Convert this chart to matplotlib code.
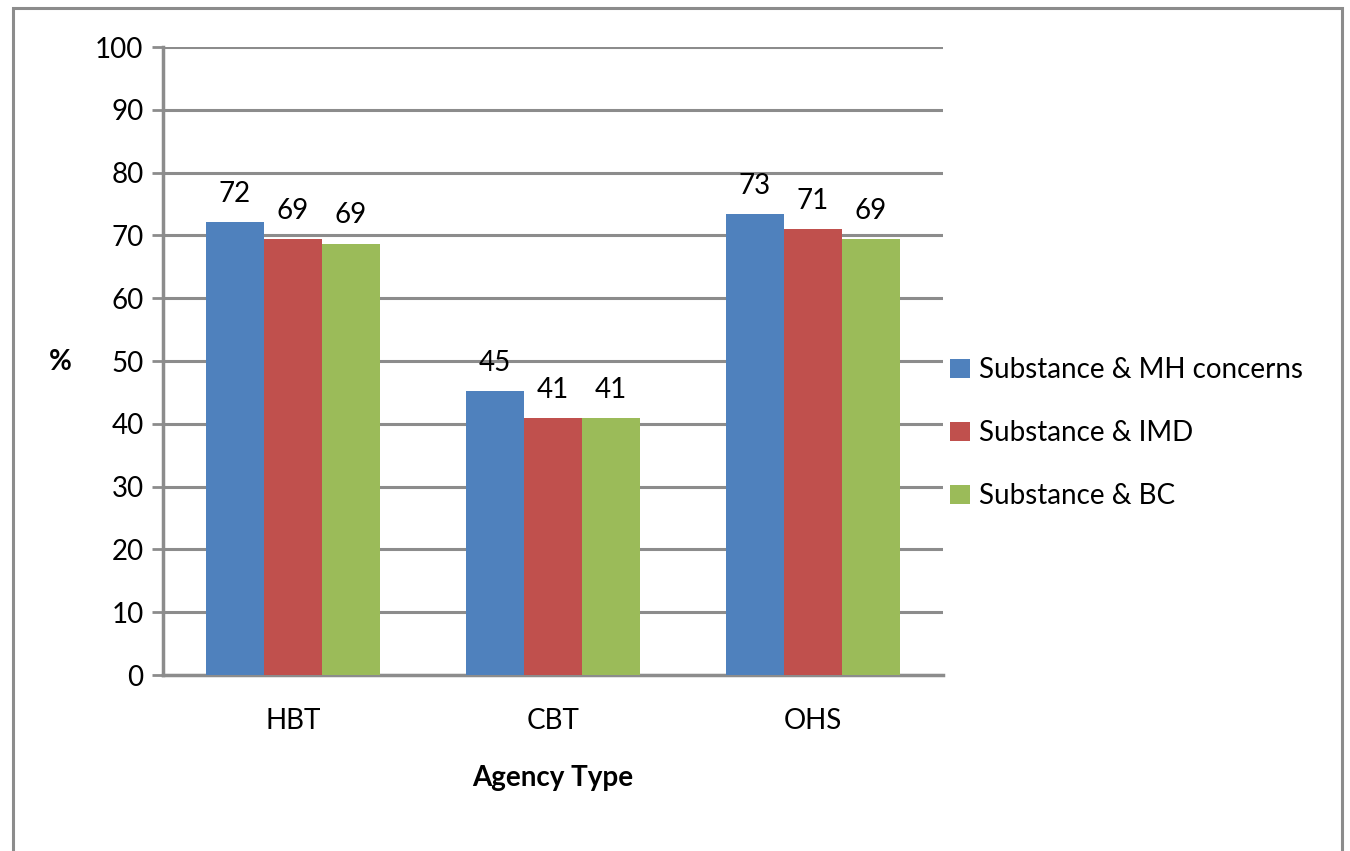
import numpy as np
import matplotlib
matplotlib.use("Agg")
import matplotlib.pyplot as plt
from matplotlib.patches import Rectangle

# --- Data ---
categories = ["HBT", "CBT", "OHS"]
series_names = ["Substance & MH concerns", "Substance & IMD", "Substance & BC"]
mh_concerns = [72.1, 45.2, 73.4]
imd = [69.4, 40.9, 71.0]
bc = [68.7, 40.9, 69.4]
bar_labels = [[72, 45, 73], [69, 41, 71], [69, 41, 69]]
yticks = [0, 10, 20, 30, 40, 50, 60, 70, 80, 90, 100]

colors = ["#4F81BD", "#C0504D", "#9BBB59"]
grid_col = "#8C8C8C"

plt.rcParams['font.family'] = ['Lato', 'DejaVu Sans']
fs = 20

W, H = 1350, 851
fig = plt.figure(figsize=(W / 100, H / 100), dpi=100)
ax = fig.add_axes([163 / W, 1 - 675 / H, (943 - 163) / W, (675 - 47) / H])

# outer frame
fig.patches.append(Rectangle((13 / W, -0.05), (1342 - 13) / W, 1.05 - 8 / H,
                             transform=fig.transFigure, fill=False,
                             edgecolor=grid_col, linewidth=2.2))

x = np.arange(len(categories))
width = 0.223
for i, vals in enumerate([mh_concerns, imd, bc]):
    bars = ax.bar(x + (i - 1) * width, vals, width, color=colors[i],
                  label=series_names[i], zorder=3)
    for rect, lab in zip(bars, bar_labels[i]):
        ax.annotate(str(lab), (rect.get_x() + rect.get_width() / 2, rect.get_height()),
                    xytext=(0, 11), textcoords="offset points",
                    ha="center", va="bottom", fontsize=fs)

ax.set_xlim(-0.5, 2.5)
ax.set_ylim(0, 100)
ax.set_yticks(yticks)
ax.set_xticks(x)
ax.set_xticklabels(categories, fontsize=fs)
ax.tick_params(axis="y", labelsize=fs, length=8, width=2, color=grid_col, pad=6)
ax.tick_params(axis="x", length=0, pad=24)
ax.yaxis.grid(True, color=grid_col, linewidth=2.2, zorder=0)
ax.set_axisbelow(True)
for s in ["top", "right"]:
    ax.spines[s].set_visible(False)
for s in ["left", "bottom"]:
    ax.spines[s].set_color(grid_col)
    ax.spines[s].set_linewidth(2.5)

ax.set_xlabel("Agency Type", fontsize=fs, fontweight="bold", labelpad=22)
fig.text(60 / W, 1 - 362 / H, "%", fontsize=fs, fontweight="bold",
         ha="center", va="center")

ax.legend(loc="center left", bbox_to_anchor=(0.995, 0.385),
          frameon=False, fontsize=fs, handlelength=0.7, handleheight=0.7,
          handletextpad=0.35, labelspacing=1.33, borderaxespad=0)

fig.savefig("out.png", dpi=100)
